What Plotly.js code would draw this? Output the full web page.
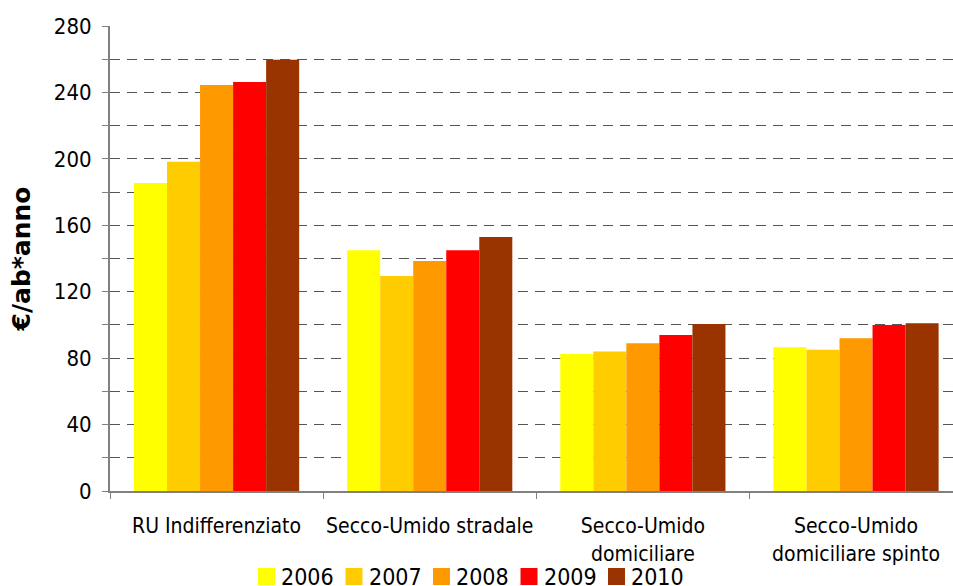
<!DOCTYPE html>
<html>
<head>
<meta charset="utf-8">
<script src="https://cdn.plot.ly/plotly-3.0.1.min.js"></script>
<style>
  html, body { margin: 0; padding: 0; background: #fff; }
  #chart { width: 953px; height: 586px; }
</style>
</head>
<body>
<div id="chart"></div>
<script>
// Costo per abitante (€/ab*anno) per sistema di raccolta, 2006-2010
const categories = [
  "RU Indifferenziato",
  "Secco-Umido stradale",
  "Secco-Umido<br>domiciliare",
  "Secco-Umido<br>domiciliare spinto"
];
const years = ["2006", "2007", "2008", "2009", "2010"];
const values2006 = [185.5, 145.0, 82.5, 86.5];
const values2007 = [198.2, 129.5, 84.0, 85.0];
const values2008 = [244.5, 138.5, 89.0, 92.0];
const values2009 = [246.3, 145.0, 94.0, 100.0];
const values2010 = [259.7, 153.0, 100.5, 101.0];
const series = [values2006, values2007, values2008, values2009, values2010];
const colors = ["#FFFF00", "#FFCC00", "#FF9900", "#FF0000", "#993300"];

const FONT = "DejaVu Sans Condensed, Tahoma, sans-serif";
const W = 953, H = 586;
const M = { l: 110, r: 0, t: 26, b: 95 };

// pixel -> paper coordinate helpers (for the key row under the axis labels)
const px = x => (x - M.l) / (W - M.l - M.r);
const py = y => (H - M.b - y) / (H - M.t - M.b);

const bars = years.map((y, i) => ({
  type: "bar",
  name: y,
  x: categories,
  y: series[i],
  marker: { color: colors[i], line: { width: 0 } },
  showlegend: false
}));

// key row: square swatch + year label, compact spacing
const KEY_X0 = 258, KEY_STEP = 87.5, KEY_SW = 17, KEY_YC = 576.5;
const keyShapes = years.map((y, i) => ({
  type: "rect",
  xref: "paper", yref: "paper",
  x0: px(KEY_X0 + i * KEY_STEP), x1: px(KEY_X0 + i * KEY_STEP + KEY_SW),
  y0: py(KEY_YC + KEY_SW / 2), y1: py(KEY_YC - KEY_SW / 2),
  fillcolor: colors[i],
  line: { width: 0 },
  layer: "above"
}));
const keyLabels = years.map((y, i) => ({
  xref: "paper", yref: "paper",
  x: px(KEY_X0 + i * KEY_STEP + KEY_SW + 5),
  y: py(KEY_YC),
  xanchor: "left", yanchor: "middle",
  text: y,
  showarrow: false,
  font: { family: FONT, size: 23, color: "#000" },
  borderpad: 0
}));

const layout = {
  width: W,
  height: H,
  margin: M,
  paper_bgcolor: "#fff",
  plot_bgcolor: "#fff",
  font: { family: FONT, size: 21, color: "#000" },
  barmode: "group",
  bargap: 0.225,
  bargroupgap: 0,
  showlegend: false,
  shapes: keyShapes,
  annotations: keyLabels,
  xaxis: {
    type: "category",
    range: [-0.5, 3.455],
    showline: true,
    linecolor: "#808080",
    linewidth: 2,
    ticks: "outside",
    tickson: "boundaries",
    ticklen: 6,
    tickcolor: "#808080",
    tickwidth: 1,
    tickangle: 0,
    showgrid: false,
    zeroline: false,
    tickfont: { family: FONT, size: 21, color: "#000" },
    ticklabelstandoff: 15
  },
  yaxis: {
    range: [0, 280],
    dtick: 40,
    tick0: 0,
    showline: true,
    linecolor: "#808080",
    linewidth: 2,
    ticks: "outside",
    ticklen: 6,
    tickcolor: "#808080",
    showgrid: true,
    gridcolor: "#555",
    gridwidth: 1,
    griddash: "10px,7px",
    zeroline: false,
    tickfont: { family: FONT, size: 22, color: "#000" },
    ticklabelstandoff: 6,
    minor: {
      dtick: 20,
      ticks: "outside",
      ticklen: 6,
      tickcolor: "#808080",
      showgrid: true,
      gridcolor: "#555",
      gridwidth: 1,
      griddash: "10px,7px"
    },
    title: {
      text: "<b>€/ab*anno</b>",
      font: { family: "DejaVu Sans, Tahoma, sans-serif", size: 25, color: "#000" },
      standoff: 16
    }
  }
};

Plotly.newPlot("chart", bars, layout, { staticPlot: true });
</script>
</body>
</html>
